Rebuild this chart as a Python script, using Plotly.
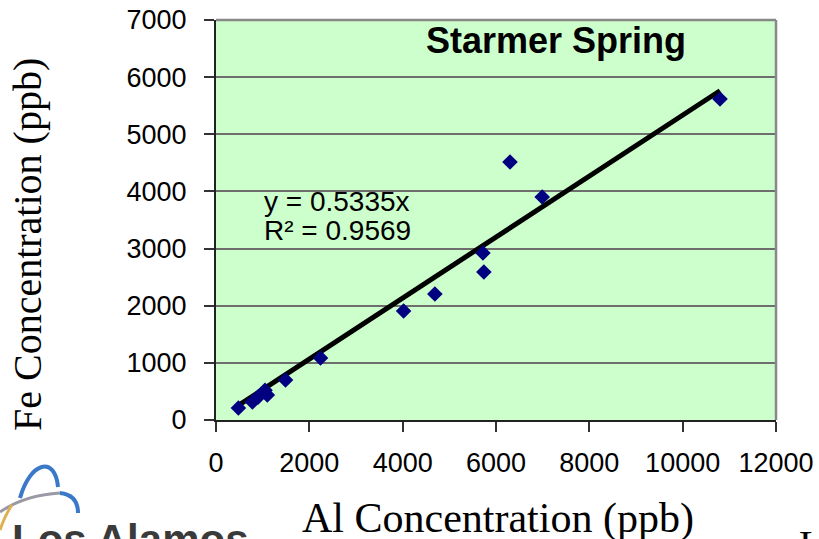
import plotly.graph_objects as go

# Data
al_ppb = [480, 780, 900, 1050, 1100, 1490, 2240, 4020, 4690, 5720, 5740, 6300, 6990, 10800]
fe_ppb = [210, 315, 400, 520, 437, 700, 1085, 1907, 2205, 2923, 2590, 4515, 3903, 5618]
slope = 0.5335
r_squared = 0.9569
x_ticks = [0, 2000, 4000, 6000, 8000, 10000, 12000]
x_tick_labels = ["0", "2000", "4000", "6000", "8000", "10000", "12000"]
y_ticks = [0, 1000, 2000, 3000, 4000, 5000, 6000, 7000]
y_tick_labels = ["0", "1000", "2000", "3000", "4000", "5000", "6000", "7000"]
title_text = "Starmer Spring"
x_title = "Al Concentration (ppb)"
y_title = "Fe Concentration (ppb)"

trend_x = [min(al_ppb), max(al_ppb)]
trend_y = [slope * v for v in trend_x]

SANS = "Arial, Liberation Sans, sans-serif"
SERIF = "Times New Roman, Liberation Serif, serif"

L, R, T, B = 216, 776, 20, 420
W, H = R - L, B - T


def px(xp, yp):
    return (xp - L) / W, (B - yp) / H


def path(*pts, cmd="C"):
    p = [px(*q) for q in pts]
    s = f"M {p[0][0]:.4f},{p[0][1]:.4f} {cmd} " + " ".join(f"{a:.4f},{b:.4f}" for a, b in p[1:])
    return s


fig = go.Figure()
fig.add_trace(go.Scatter(x=trend_x, y=trend_y, mode="lines",
                         line=dict(color="black", width=5), hoverinfo="skip",
                         showlegend=False))
fig.add_trace(go.Scatter(x=al_ppb, y=fe_ppb, mode="markers",
                         marker=dict(symbol="diamond", size=12, color="#000080",
                                     line=dict(width=0)),
                         showlegend=False))

axis_common = dict(zeroline=False, showline=True, linecolor="#222222", linewidth=2,
                   ticks="outside", ticklen=10, tickcolor="#333333", tickwidth=1.5,
                   automargin=False,
                   tickfont=dict(family=SANS, size=27, color="black"))

fig.update_layout(
    width=819, height=539,
    margin=dict(l=L, r=819 - R, t=T, b=539 - B, autoexpand=False),
    paper_bgcolor="white",
    plot_bgcolor="#CCFFCC",
    showlegend=False,
    xaxis=dict(range=[0, 12000], tickvals=x_ticks, ticktext=x_tick_labels,
               showgrid=False, ticklabelstandoff=8, **axis_common),
    yaxis=dict(range=[0, 7000], tickvals=y_ticks, ticktext=y_tick_labels,
               showgrid=True, gridcolor="#6e6e6e", gridwidth=1.5,
               ticklabelstandoff=12, **axis_common),
    shapes=[
        dict(type="line", xref="paper", yref="paper", x0=0, x1=1, y0=1, y1=1,
             line=dict(color="#888888", width=2.5)),
        dict(type="line", xref="paper", yref="paper", x0=1, x1=1, y0=0, y1=1,
             line=dict(color="#888888", width=2.5)),
        # logo arcs (decoration)
        dict(type="path", xref="paper", yref="paper", layer="above",
             path=path((20, 498), (30, 462), (55, 455), (58, 487)),
             line=dict(color="#3a78c8", width=4)),
        dict(type="path", xref="paper", yref="paper", layer="above",
             path=path((0, 512), (25, 495), (60, 493), cmd="Q"),
             line=dict(color="#9a9aa6", width=3)),
        dict(type="path", xref="paper", yref="paper", layer="above",
             path=path((60, 493), (78, 495), (78, 513), cmd="Q"),
             line=dict(color="#3a78c8", width=4)),
        dict(type="path", xref="paper", yref="paper", layer="above",
             path=path((0, 530), (5, 515), (12, 505), cmd="Q"),
             line=dict(color="#e0b050", width=3)),
    ],
    annotations=[
        dict(text=f"<b>{title_text}</b>", x=7285, y=6650, xref="x", yref="y",
             showarrow=False, font=dict(family=SANS, size=36, color="black")),
        dict(text=f"y = {slope}x", x=990, y=3830, xref="x", yref="y",
             xanchor="left", showarrow=False,
             font=dict(family=SANS, size=28, color="black")),
        dict(text=f"R² = {r_squared}", x=990, y=3320, xref="x", yref="y",
             xanchor="left", showarrow=False,
             font=dict(family=SANS, size=28, color="black")),
        dict(text=x_title, x=px(498, 518)[0], y=px(498, 518)[1], xref="paper",
             yref="paper", xanchor="center", yanchor="middle", showarrow=False,
             font=dict(family=SERIF, size=42, color="black")),
        dict(text=y_title, x=px(27, 245)[0], y=px(27, 245)[1], xref="paper",
             yref="paper", xanchor="center", yanchor="middle", showarrow=False,
             textangle=-90,
             font=dict(family=SERIF, size=40, color="black")),
        dict(text="<b>Los Alamos</b>", x=px(10, 514)[0], y=px(10, 514)[1],
             xref="paper", yref="paper", xanchor="left", yanchor="top",
             showarrow=False, font=dict(family=SANS, size=42, color="#3a3a3a")),
        dict(text="L", x=px(797, 520)[0], y=px(797, 520)[1],
             xref="paper", yref="paper", xanchor="left", yanchor="top",
             showarrow=False, font=dict(family=SERIF, size=40, color="black")),
    ],
)

fig.write_html("out.html")
